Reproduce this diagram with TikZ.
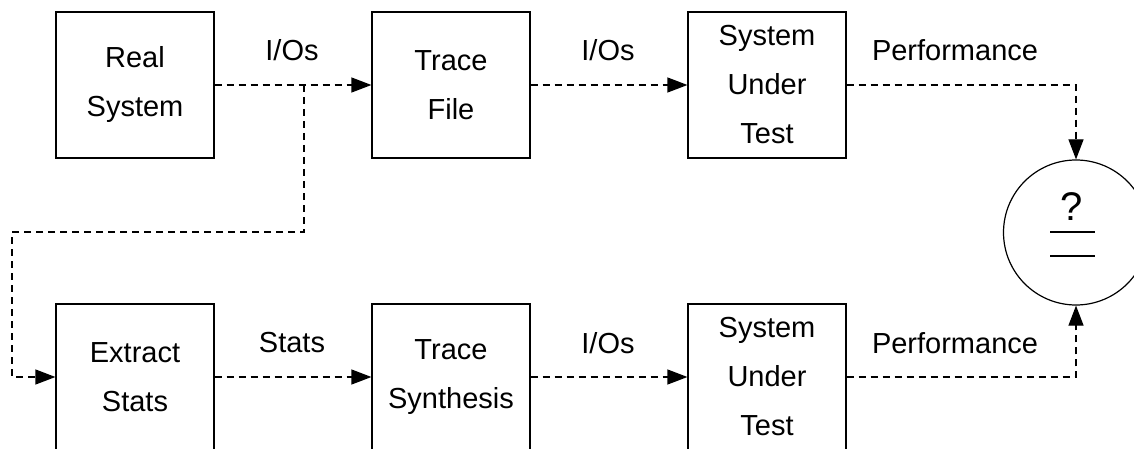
\documentclass[tikz,border=0pt]{standalone}
\usepackage{fontspec}
\setmainfont{Liberation Sans}
\usetikzlibrary{arrows.meta}
\begin{document}
\begin{tikzpicture}[x=1pt,y=-1pt,
  stage/.style={draw,line width=1.2pt,minimum width=158pt,minimum height=146pt,
    inner sep=0pt,align=center,font=\fontsize{29}{49}\selectfont},
  lbl/.style={font=\fontsize{29}{34}\selectfont,inner sep=0pt},
  flow/.style={dashed,dash pattern=on 7pt off 5pt,line width=1.2pt,
    -{Triangle[length=20pt,width=15pt]}}]
\useasboundingbox (0,0) rectangle (1134,449);

% top row: recorded trace replay
\node[stage] (real) at (135,85) {Real\\System};
\node[stage] (trace) at (451,85) {Trace\\File};
\node[stage] (sut1) at (767,85) {System\\Under\\Test};

% bottom row: synthetic trace (boxes run past the lower edge)
\node[stage] (extract) at (135,377) {Extract\\Stats};
\node[stage] (synth) at (451,377) {Trace\\Synthesis};
\node[stage] (sut2) at (767,377) {System\\Under\\Test};

% comparison
\node[draw,circle,line width=1.2pt,minimum size=145pt,inner sep=0pt] (cmp) at (1076,232.5) {};
\node[font=\fontsize{40}{44}\selectfont,inner sep=0pt] (qm) at (1072,207) {?};
\draw[line width=1.5pt] (1050,232) -- (1095,232);
\draw[line width=1.5pt] (1050,256) -- (1095,256);

% connectors
\coordinate (split) at (304,85);
\draw[flow] (real.east) -- (trace.west);
\draw[flow] (split) -- (304,232) -- (12,232) |- (extract.west);
\draw[flow] (trace.east) -- (sut1.west);
\draw[flow] (sut1.east) -| (cmp.north);
\draw[flow] (extract.east) -- (synth.west);
\draw[flow] (synth.east) -- (sut2.west);
\draw[flow] (sut2.east) -| (cmp.south);

% labels
\node[lbl] (l1) at (292,50) {I/Os};
\node[lbl] (l2) at (608,50) {I/Os};
\node[lbl] (l3) at (955,50) {Performance};
\node[lbl] (l4) at (292,343) {Stats};
\node[lbl] (l5) at (608,343) {I/Os};
\node[lbl] (l6) at (955,343) {Performance};
\end{tikzpicture}
\end{document}
